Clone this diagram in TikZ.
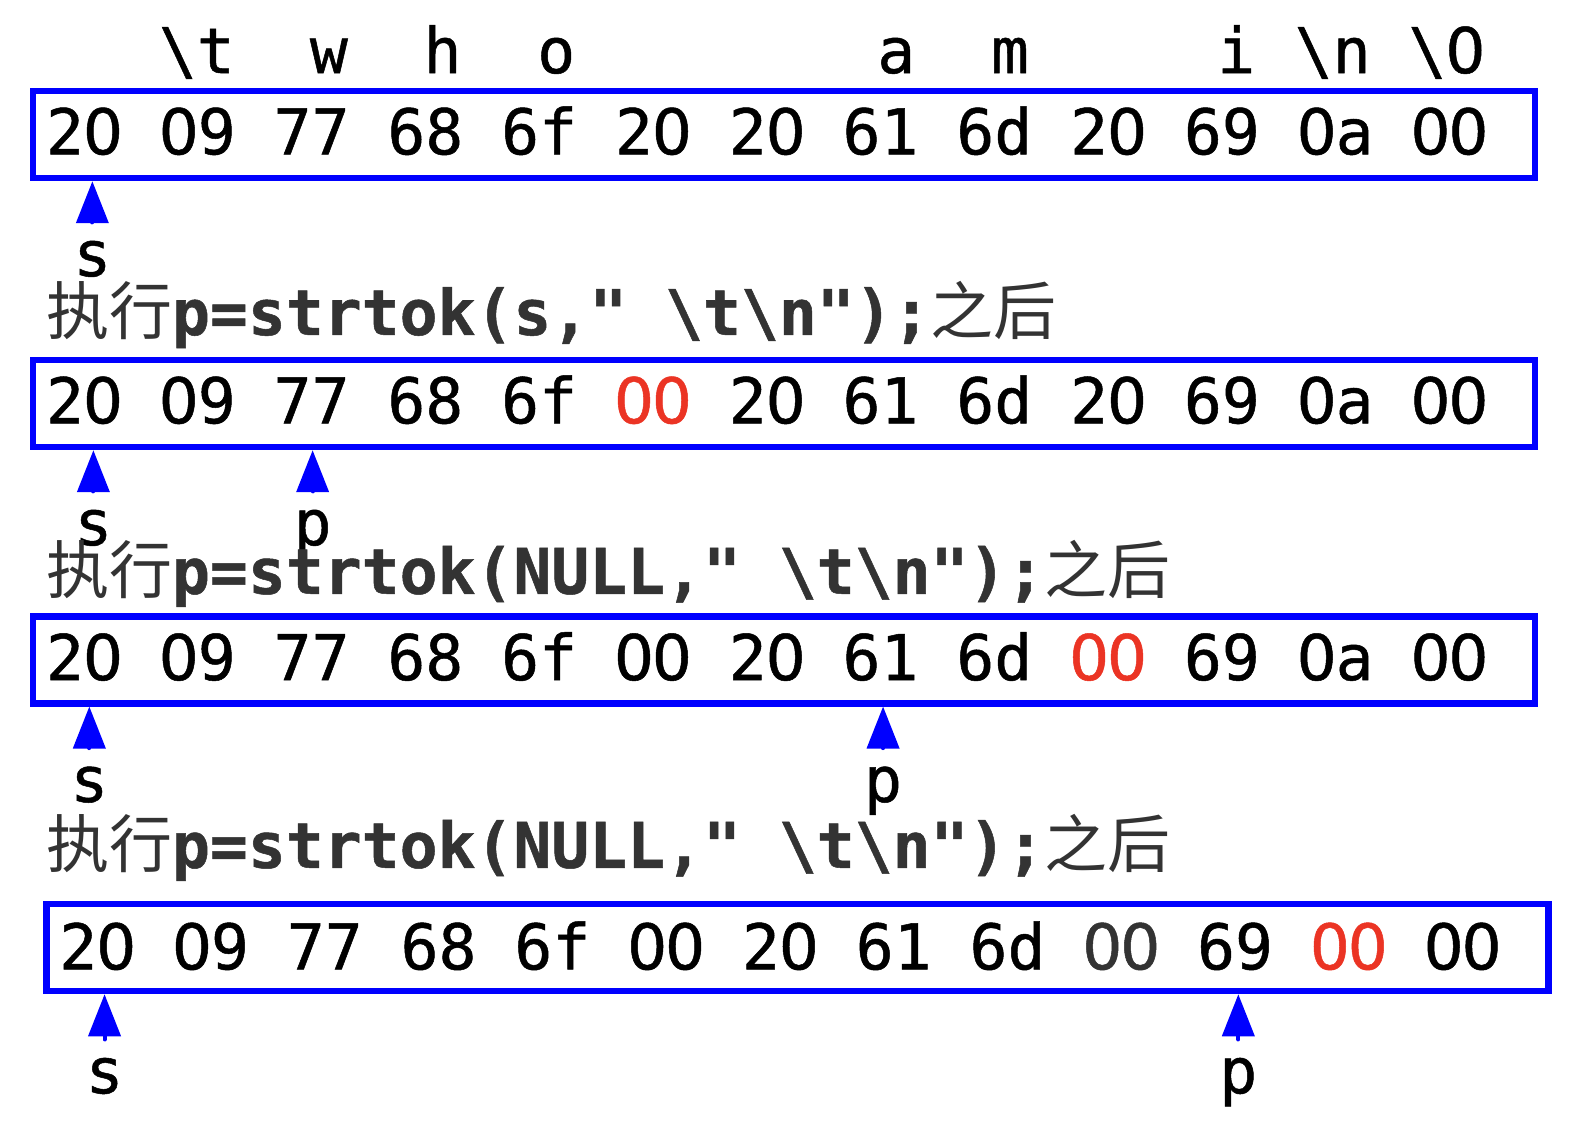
\documentclass[tikz,border=0pt]{standalone}
\usepackage{fontspec}
\usetikzlibrary{arrows.meta}
\newfontfamily\hexfont{DejaVu Sans Mono}[FakeBold=0.8]
\newfontfamily\zerofont{DejaVu Sans}[FakeBold=0.8]
\newfontfamily\cjkfont{Noto Sans CJK SC}
\definecolor{nulred}{RGB}{235,52,36}
\definecolor{capgray}{RGB}{51,51,51}
\definecolor{boxblue}{RGB}{0,0,255}
% plain zero in a monospace cell
\newcommand{\zo}{\makebox[0.602em]{\zerofont 0}}

\begin{document}
\begin{tikzpicture}[x=0.5075pt,y=-0.5075pt,
    txt/.style={font=\fontsize{31.5}{37.5}\selectfont\hexfont, inner sep=0pt},
    hexrow/.style={txt, anchor=base west},
    caption/.style={txt, anchor=base west, text=capgray},
    lbl/.style={txt, anchor=base},
    hexbox/.style={draw=boxblue, line width=3.25pt, minimum width=751pt, minimum height=43.5pt, inner sep=0pt},
    ptr/.style={draw=boxblue, line width=2pt, line cap=round, shorten <=9pt, -{Triangle[width=16pt,length=21pt]}}]
    \useasboundingbox (0,0) rectangle (1564.5,1107.4);

    %Nodes
    \node[lbl] at (194,72)  (ltab) {\textbackslash t};
    \node[lbl] at (324,72)  (lw)   {w};
    \node[lbl] at (436,72)  (lh)   {h};
    \node[lbl] at (548,72)  (lo)   {o};
    \node[lbl] at (883,72)  (la)   {a};
    \node[lbl] at (995,72)  (lm)   {m};
    \node[lbl] at (1218,72) (li)   {i};
    \node[lbl] at (1313,72) (lnl)  {\textbackslash n};
    \node[lbl] at (1425,72) (lnul) {\textbackslash\zo};

    \node[hexbox] at (772.5,132.5) (box1) {};
    \node[hexrow] at (45,152) (row1) {2\zo{} \zo9 77 68 6f 2\zo{} 2\zo{} 61 6d 2\zo{} 69 \zo a \zo\zo};
    \node[lbl] at (91,272) (s1) {s};
    \node[caption] at (45,330) (cap1) {{\cjkfont 执行}\textbf{p=strtok(s," \textbackslash t\textbackslash n");}{\cjkfont 之后}};

    \node[hexbox] at (772.5,397.5) (box2) {};
    \node[hexrow] at (45,417) (row2) {2\zo{} \zo9 77 68 6f \textcolor{nulred}{\zo\zo} 2\zo{} 61 6d 2\zo{} 69 \zo a \zo\zo};
    \node[lbl] at (92,537)  (s2) {s};
    \node[lbl] at (308,537) (p2) {p};
    \node[caption] at (45,585) (cap2) {{\cjkfont 执行}\textbf{p=strtok(NULL," \textbackslash t\textbackslash n");}{\cjkfont 之后}};

    \node[hexbox] at (772.5,650) (box3) {};
    \node[hexrow] at (45,670) (row3) {2\zo{} \zo9 77 68 6f \zo\zo{} 2\zo{} 61 6d \textcolor{nulred}{\zo\zo} 69 \zo a \zo\zo};
    \node[lbl] at (88,790)  (s3) {s};
    \node[lbl] at (870,790) (p3) {p};
    \node[caption] at (45,855) (cap3) {{\cjkfont 执行}\textbf{p=strtok(NULL," \textbackslash t\textbackslash n");}{\cjkfont 之后}};

    \node[hexbox] at (785.5,933.5) (box4) {};
    \node[hexrow] at (58,955) (row4) {2\zo{} \zo9 77 68 6f \zo\zo{} 2\zo{} 61 6d \textcolor{capgray}{\zo\zo} 69 \textcolor{nulred}{\zo\zo} \zo\zo};
    \node[lbl] at (103,1077)  (s4) {s};
    \node[lbl] at (1220,1077) (p4) {p};

    %Lines
    \draw[ptr] (s1.north) -- (s1 |- box1.south);
    \draw[ptr] (s2.north) -- (s2 |- box2.south);
    \draw[ptr] (p2.north) -- (p2 |- box2.south);
    \draw[ptr] (s3.north) -- (s3 |- box3.south);
    \draw[ptr] (p3.north) -- (p3 |- box3.south);
    \draw[ptr] (s4.north) -- (s4 |- box4.south);
    \draw[ptr] (p4.north) -- (p4 |- box4.south);
\end{tikzpicture}
\end{document}
